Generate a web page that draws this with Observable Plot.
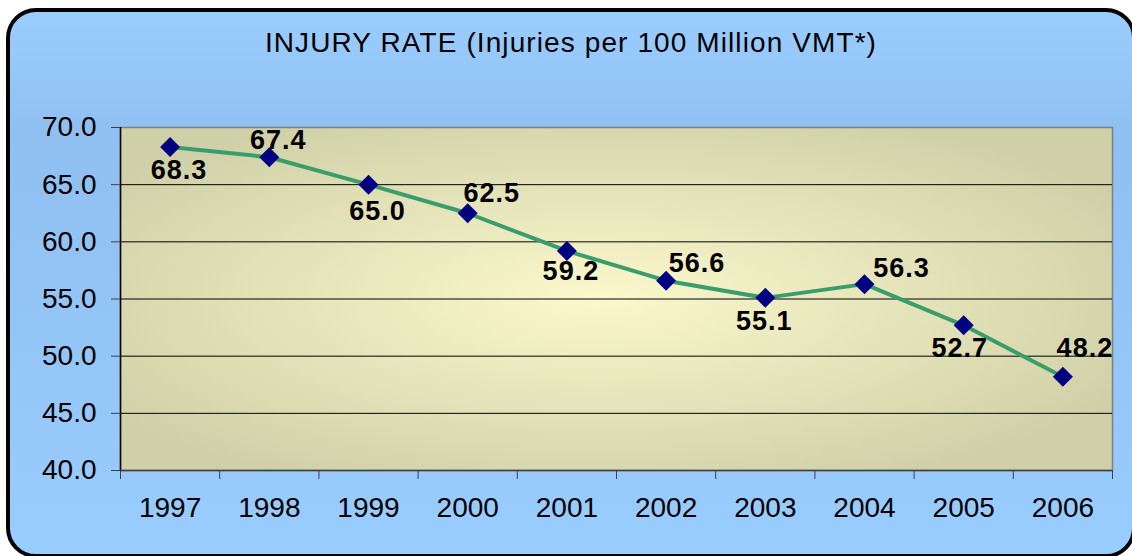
<!DOCTYPE html>
<html>
<head>
<meta charset="utf-8">
<script src="https://cdn.jsdelivr.net/npm/d3@7"></script>
<script src="https://cdn.jsdelivr.net/npm/@observablehq/plot@0.6"></script>
<style>
  html, body { margin: 0; padding: 0; }
  body { width: 1132px; height: 556px; overflow: hidden; background: #fff; position: relative;
         font-family: "Liberation Sans", Arial, sans-serif; }
  #box { position: absolute; left: 6px; top: 8px; width: 1130px; height: 550px; box-sizing: border-box;
         border: 4px solid #000; border-radius: 30px;
         background: linear-gradient(to bottom, #9acdff 0%, #90c0f1 22%, #93c5f6 60%, #9acdff 100%); }
  #title { position: absolute; left: 6px; top: 29px; width: 1130px; text-align: center;
           font-size: 28px; line-height: 28px; letter-spacing: 1.1px; color: #000; }
  #chart { position: absolute; left: 0; top: 0; }
  #chart .lbl text, #chart text.lbl { letter-spacing: 1px; }
</style>
</head>
<body>
<div id="box"></div>
<div id="title">INJURY RATE (Injuries per 100 Million VMT*)</div>
<div id="chart"></div>
<script>
const years = [1997, 1998, 1999, 2000, 2001, 2002, 2003, 2004, 2005, 2006];
const rates = [68.3, 67.4, 65.0, 62.5, 59.2, 56.6, 55.1, 56.3, 52.7, 48.2];
const yTicks = [40, 45, 50, 55, 60, 65, 70];

const data = years.map((year, i) => ({year, rate: rates[i]}));
const gridLines = yTicks.filter(v => v > 40 && v < 70);
const bandEdges = [...years.map(y => y - 0.5), years[years.length - 1] + 0.5];

// label nudges (pixels) mimicking the original label placement
const nudges = [[9, 23], [9, -17], [9, 27], [24, -20], [4, 20], [31, -17], [-1, 24], [37, -16], [-4, 23], [22, -28]];

const labelMarks = data.map((d, i) => Plot.text([d], {
  x: "year", y: "rate", text: v => v.rate.toFixed(1),
  dx: nudges[i][0], dy: nudges[i][1],
  fontSize: 27, fontWeight: "bold", fill: "#000", textAnchor: "middle", lineAnchor: "middle",
  className: "lbl"
}));

const chart = Plot.plot({
  width: 1132,
  height: 556,
  marginTop: 127,
  marginBottom: 86,
  marginLeft: 120,
  marginRight: 20,
  style: { background: "transparent", fontFamily: "Liberation Sans, Arial, sans-serif", color: "#000", overflow: "visible" },
  x: { type: "linear", domain: [years[0] - 0.5, years[years.length - 1] + 0.5] },
  y: { domain: [40, 70] },
  marks: [
    Plot.frame({ fill: "url(#plotGrad)", stroke: "#7f7f7f", strokeWidth: 1.5 }),
    Plot.ruleY(gridLines, { stroke: "#000", strokeWidth: 1 }),
    Plot.ruleY([40], { stroke: "#404040", strokeWidth: 1.5 }),
    Plot.ruleX([years[0] - 0.5], { stroke: "#000", strokeWidth: 1.5 }),
    Plot.axisY({ ticks: yTicks, tickFormat: d => d.toFixed(1), tickSize: 9, tickPadding: 15,
                 fontSize: 28, stroke: "#404040", label: null }),
    Plot.axisX({ ticks: bandEdges, tickFormat: () => "", tickSize: 9, stroke: "#404040", label: null }),
    Plot.axisX({ ticks: years, tickFormat: d => String(d), tickSize: 0, tickPadding: 27,
                 fontSize: 28, label: null }),
    Plot.line(data, { x: "year", y: "rate", stroke: "#3a9e6c", strokeWidth: 4 }),
    Plot.dot(data, { x: "year", y: "rate", symbol: "diamond2", r: 9, fill: "#000080" }),
    ...labelMarks
  ]
});

const svg = chart.tagName.toLowerCase() === "svg" ? chart : chart.querySelector("svg");
const defs = d3.select(svg).insert("defs", ":first-child");
const grad = defs.append("radialGradient").attr("id", "plotGrad")
  .attr("cx", "0.48").attr("cy", "0.5").attr("r", "0.6");
grad.append("stop").attr("offset", "0%").attr("stop-color", "#fbf8cc");
grad.append("stop").attr("offset", "100%").attr("stop-color", "#d0d0a8");

document.getElementById("chart").appendChild(chart);
</script>
</body>
</html>
